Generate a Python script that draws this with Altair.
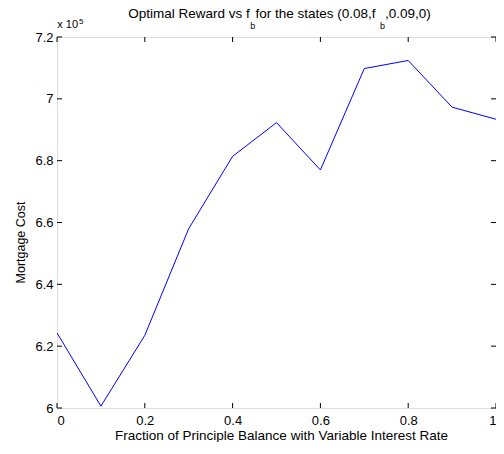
import altair as alt
import pandas as pd

# data
fractions = [0.0, 0.1, 0.2, 0.3, 0.4, 0.5, 0.6, 0.7, 0.8, 0.9, 1.0]
costs = [624300, 600600, 623500, 658000, 681400, 692300, 677000, 709800, 712400, 697300, 693400]
x_ticks = [0, 0.2, 0.4, 0.6, 0.8, 1.0]
y_ticks = [600000, 620000, 640000, 660000, 680000, 700000, 720000]

W, H = 439, 371
FONT = "Liberation Sans"

df = pd.DataFrame({"f": fractions, "cost": costs})
xt = pd.DataFrame({"t": x_ticks})
yt = pd.DataFrame({"t": y_ticks})

xscale = alt.Scale(domain=[0, 1], nice=False, zero=False)
yscale = alt.Scale(domain=[600000, 720000], nice=False, zero=False)

line = alt.Chart(df).mark_line(color="#0000ff", strokeWidth=1, clip=True).encode(
    x=alt.X("f:Q", scale=xscale,
            axis=alt.Axis(values=x_ticks, format="~g", ticks=False, domain=False, grid=False,
                          labelFontSize=13, labelPadding=6, labelColor="#000", labelFont=FONT,
                          title="Fraction of Principle Balance with Variable Interest Rate",
                          titleFont=FONT, titleFontSize=13.5, titleFontWeight="normal",
                          titleColor="#000", titleX=224, titleY=31, titleBaseline="alphabetic",
                          titleAlign="center")),
    y=alt.Y("cost:Q", scale=yscale,
            axis=alt.Axis(values=y_ticks, labelExpr="datum.value / 100000", ticks=False,
                          domain=False, grid=False, labelFontSize=13, labelPadding=4,
                          labelColor="#000", labelFont=FONT,
                          title="Mortgage Cost", titleFont=FONT, titleFontSize=12.5,
                          titleFontWeight="normal", titleColor="#000", titleX=-33, titleY=205,
                          titleAngle=270, titleBaseline="alphabetic", titleAlign="center")),
)

tick_len = 5
xb = alt.Chart(xt).mark_rule(color="#000", strokeWidth=1).encode(
    x=alt.X("t:Q", scale=xscale), y=alt.value(H), y2=alt.value(H - tick_len))
xtop = alt.Chart(xt).mark_rule(color="#000", strokeWidth=1).encode(
    x=alt.X("t:Q", scale=xscale), y=alt.value(0), y2=alt.value(tick_len))
yl = alt.Chart(yt).mark_rule(color="#000", strokeWidth=1).encode(
    y=alt.Y("t:Q", scale=yscale), x=alt.value(0), x2=alt.value(tick_len))
yr = alt.Chart(yt).mark_rule(color="#000", strokeWidth=1).encode(
    y=alt.Y("t:Q", scale=yscale), x=alt.value(W), x2=alt.value(W - tick_len))


def txt(s, x, y, size):
    return alt.Chart(alt.Data(values=[{}])).mark_text(
        text=s, align="left", baseline="alphabetic", font=FONT, fontSize=size, color="#000"
    ).encode(x=alt.value(x), y=alt.value(y))


title_parts = [
    txt("Optimal Reward vs f", 71.3, -19.5, 13.5),
    txt("b", 193.3, -8.5, 9),
    txt(" for the states (0.08,f", 198.5, -19.5, 13.5),
    txt("b", 323.0, -8.5, 9),
    txt(",0.09,0)", 328.0, -19.5, 13.5),
    txt("x 10", 0.3, -8.7, 11),
    txt("5", 22.0, -13.0, 8),
]

chart = alt.layer(line, xb, xtop, yl, yr, *title_parts).properties(
    width=W, height=H,
    autosize=alt.AutoSizeParams(type="none"),
    padding={"left": 49, "top": 29, "right": 0, "bottom": 34},
).configure_view(stroke="#000", strokeWidth=1).configure(background="#ffffff")

chart.save("out.html", embed_options={"renderer": "svg", "actions": False})
